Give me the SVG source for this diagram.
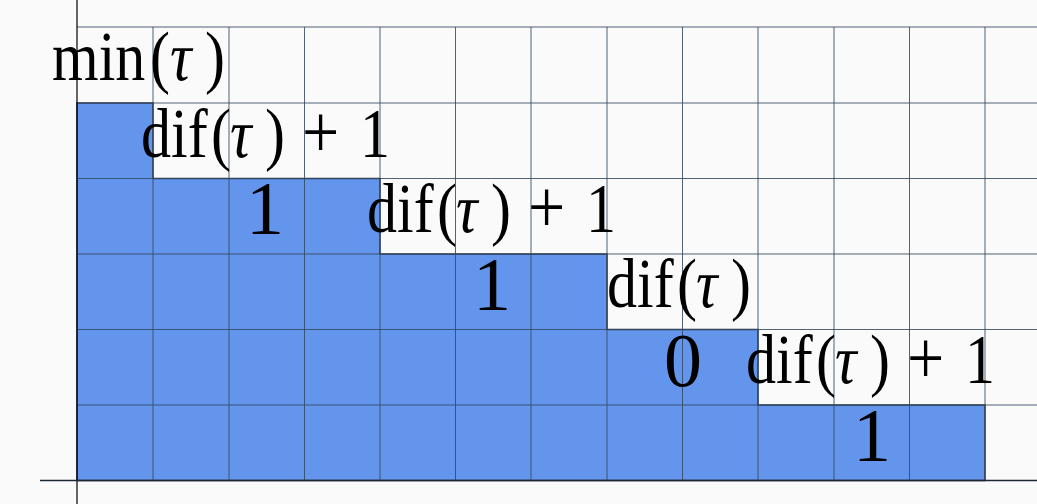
<svg xmlns="http://www.w3.org/2000/svg" width="1037" height="504" viewBox="0 0 1037 504">
<style>
.grid line{stroke:#34495e;stroke-width:1;opacity:0.85}
.lbl{font-family:"Liberation Serif","DejaVu Serif",serif;font-size:60px;fill:#000}
.num{font-family:"Liberation Serif","DejaVu Serif",serif;font-size:76px;fill:#000;text-anchor:middle}
.it{font-style:italic}
.pl{font-size:66px}
</style>
<rect x="0" y="0" width="1037" height="504" fill="#fafafa"/>
<g id="fill">
<polygon points="77,103 153,103 153,178.5 380,178.5 380,254 607,254 607,329.5 758,329.5 758,405 985,405 985,480.5 77,480.5" fill="#6495ed" stroke="#2c3e50" stroke-width="1.5"/>
</g>
<g id="grid" class="grid">
<line x1="77" y1="27" x2="1037" y2="27"/>
<line x1="77" y1="103" x2="1037" y2="103"/>
<line x1="77" y1="178.5" x2="1037" y2="178.5"/>
<line x1="77" y1="254" x2="1037" y2="254"/>
<line x1="77" y1="329.5" x2="1037" y2="329.5"/>
<line x1="77" y1="405" x2="1037" y2="405"/>
<line x1="153" y1="27" x2="153" y2="480"/>
<line x1="229" y1="27" x2="229" y2="480"/>
<line x1="304.5" y1="27" x2="304.5" y2="480"/>
<line x1="380" y1="27" x2="380" y2="480"/>
<line x1="455.5" y1="27" x2="455.5" y2="480"/>
<line x1="531" y1="27" x2="531" y2="480"/>
<line x1="607" y1="27" x2="607" y2="480"/>
<line x1="682.5" y1="27" x2="682.5" y2="480"/>
<line x1="758" y1="27" x2="758" y2="480"/>
<line x1="834" y1="27" x2="834" y2="480"/>
<line x1="909.5" y1="27" x2="909.5" y2="480"/>
<line x1="985" y1="27" x2="985" y2="480"/>
</g>
<g id="axes">
<line x1="77" y1="0" x2="77" y2="504" stroke="#000" stroke-width="1.2"/>
<line x1="40" y1="480.5" x2="1037" y2="480.5" stroke="#1c2833" stroke-width="1.5"/>
</g>
<g id="labels">
<text class="lbl" transform="matrix(1 0 0 1.15 0 80)" y="0"><tspan x="52">min</tspan><tspan x="150">(</tspan><tspan x="170" class="it">τ</tspan><tspan x="205">)</tspan></text>
<text class="lbl" transform="matrix(1 0 0 1.15 0 157)" y="0"><tspan x="141">dif</tspan><tspan x="211">(</tspan><tspan x="230" class="it">τ</tspan><tspan x="265">)</tspan><tspan x="302" class="pl">+</tspan><tspan x="360">1</tspan></text>
<text class="lbl" transform="matrix(1 0 0 1.15 0 232)" y="0"><tspan x="367">dif</tspan><tspan x="437">(</tspan><tspan x="456" class="it">τ</tspan><tspan x="491">)</tspan><tspan x="528" class="pl">+</tspan><tspan x="586">1</tspan></text>
<text class="lbl" transform="matrix(1 0 0 1.15 0 307)" y="0"><tspan x="607">dif</tspan><tspan x="677">(</tspan><tspan x="696" class="it">τ</tspan><tspan x="731">)</tspan></text>
<text class="lbl" transform="matrix(1 0 0 1.15 0 383)" y="0"><tspan x="746">dif</tspan><tspan x="816">(</tspan><tspan x="835" class="it">τ</tspan><tspan x="870">)</tspan><tspan x="907" class="pl">+</tspan><tspan x="965">1</tspan></text>
<text class="num" x="265" y="234">1</text>
<text class="num" x="492" y="310">1</text>
<text class="num" x="683" y="386">0</text>
<text class="num" x="872" y="461">1</text>
</g>
</svg>
